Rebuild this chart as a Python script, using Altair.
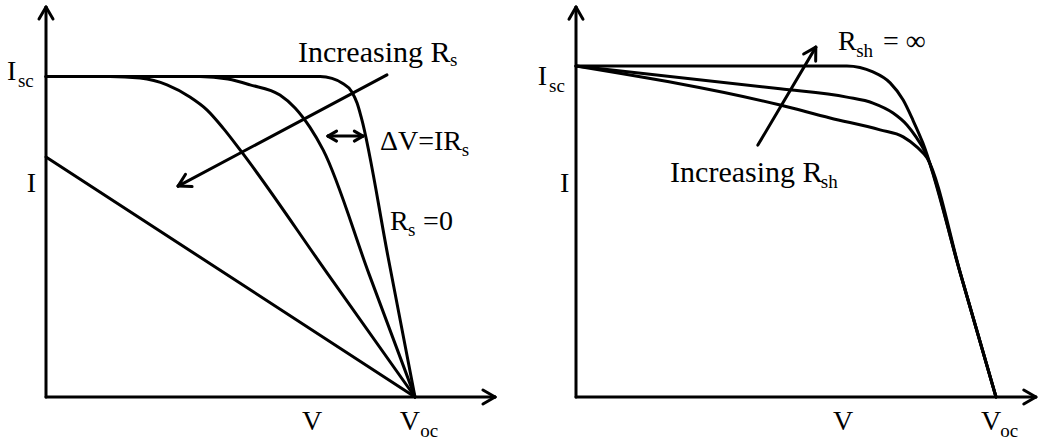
import math
import altair as alt
import pandas as pd

# ---------------------------------------------------------------------------
# I-V curves of a solar cell: voltage in units of Voc, current in units of Isc
# ---------------------------------------------------------------------------

# Left panel: series resistance Rs
rs0_v = [0.0, 0.688, 0.743, 0.775, 0.802, 0.829, 0.843, 0.854, 0.927, 1.0]
rs0_i = [1.0, 1.0, 1.0, 0.994, 0.980, 0.952, 0.917, 0.874, 0.437, 0.0]

rs1_v = [0.0, 0.417, 0.493, 0.553, 0.634, 0.675, 0.715, 0.751, 0.875, 1.0]
rs1_i = [1.0, 1.0, 0.992, 0.974, 0.942, 0.902, 0.842, 0.771, 0.385, 0.0]

rs2_v = [0.0, 0.173, 0.255, 0.328, 0.390, 0.436, 0.480, 0.526, 0.763, 1.0]
rs2_i = [1.0, 1.0, 0.995, 0.974, 0.936, 0.896, 0.839, 0.771, 0.385, 0.0]

rs3_v = [0.0, 1.0]
rs3_i = [0.749, 0.0]

# Right panel: shunt resistance Rsh
sh_inf_v = [0.0, 0.645, 0.707, 0.748, 0.779, 0.802, 0.826, 0.913, 1.0]
sh_inf_i = [1.0, 1.0, 0.982, 0.949, 0.897, 0.837, 0.767, 0.384, 0.0]

sh_mid_v = [0.0, 0.486, 0.645, 0.707, 0.755, 0.788, 0.810, 0.829, 0.915, 1.0]
sh_mid_i = [1.0, 0.931, 0.906, 0.888, 0.858, 0.822, 0.785, 0.746, 0.373, 0.0]

sh_low_v = [0.0, 0.486, 0.605, 0.724, 0.779, 0.812, 0.836, 0.918, 1.0]
sh_low_i = [1.0, 0.882, 0.843, 0.807, 0.786, 0.755, 0.722, 0.361, 0.0]

FONT = "Times New Roman, Liberation Serif, DejaVu Serif, serif"
W, H = 519, 442
STROKE = 3

# plot-area geometry of each panel: origin (px) and pixels per unit
LEFT = dict(x0=46, y0=397, sx=369, sy=320.5)
RIGHT = dict(x0=57, y0=397, sx=420, sy=331)


def curves_frame(curves):
    rows = []
    for name, (vs, cs) in curves.items():
        for k, (v, c) in enumerate(zip(vs, cs)):
            rows.append({"curve": name, "k": k, "V": v, "I": c})
    return pd.DataFrame(rows)


def chevron(p, tip, tail, length=14, spread=30):
    """Two short strokes forming an open arrowhead at `tip`, pointing away from `tail`."""
    dx = (tip[0] - tail[0]) * p["sx"]
    dy = -(tip[1] - tail[1]) * p["sy"]
    ang = math.atan2(dy, dx) + math.pi
    segs = []
    for s in (-spread, spread):
        a = ang + math.radians(s)
        wx = length * math.cos(a)
        wy = length * math.sin(a)
        segs.append((tip[0], tip[1], tip[0] + wx / p["sx"], tip[1] - wy / p["sy"]))
    return segs


def arrow(p, tail, tip, both=False, length=14):
    segs = [(tail[0], tail[1], tip[0], tip[1])]
    segs += chevron(p, tip, tail, length)
    if both:
        segs += chevron(p, tail, tip, length)
    return segs


def panel(p, curves, segments, texts):
    xs = alt.Scale(domain=[-p["x0"] / p["sx"], (W - p["x0"]) / p["sx"]], nice=False, zero=False)
    ys = alt.Scale(domain=[(p["y0"] - H) / p["sy"], p["y0"] / p["sy"]], nice=False, zero=False)

    lines = alt.Chart(curves_frame(curves)).mark_line(
        interpolate="monotone", strokeWidth=STROKE, color="black", strokeCap="round"
    ).encode(
        x=alt.X("V:Q", scale=xs, axis=None),
        y=alt.Y("I:Q", scale=ys, axis=None),
        detail="curve:N",
        order="k:Q",
    )

    seg_df = pd.DataFrame(segments, columns=["V", "I", "V2", "I2"])
    rules = alt.Chart(seg_df).mark_rule(
        strokeWidth=STROKE, color="black", strokeCap="round"
    ).encode(
        x=alt.X("V:Q", scale=xs, axis=None),
        y=alt.Y("I:Q", scale=ys, axis=None),
        x2="V2:Q",
        y2="I2:Q",
    )

    txt_df = pd.DataFrame(texts, columns=["V", "I", "label", "size"])
    labels = alt.Chart(txt_df).mark_text(
        font=FONT, align="left", baseline="alphabetic", color="black"
    ).encode(
        x=alt.X("V:Q", scale=xs, axis=None),
        y=alt.Y("I:Q", scale=ys, axis=None),
        text="label:N",
        size=alt.Size("size:Q", scale=None, legend=None),
    )

    return alt.layer(lines, rules, labels).properties(width=W, height=H)


BIG, SUB, NOTE = 28, 19, 30

# ---------------- left panel ----------------
left_segments = []
left_segments += arrow(LEFT, (0.0, 0.0), (0.0, 1.217))        # I axis
left_segments += arrow(LEFT, (0.0, 0.0), (1.217, 0.0))        # V axis
left_segments += arrow(LEFT, (0.924, 1.005), (0.358, 0.658))  # increasing Rs
left_segments += arrow(LEFT, (0.764, 0.814), (0.859, 0.814), both=True, length=10)  # ΔV

left_texts = [
    (-0.106, 0.989, "I", BIG), (-0.076, 0.967, "sc", SUB),
    (-0.052, 0.640, "I", BIG),
    (0.683, 1.045, "Increasing R", NOTE), (1.095, 1.033, "s", SUB),
    (0.905, 0.771, "\u0394V=IR", BIG), (1.127, 0.752, "s", SUB),
    (0.932, 0.521, "R", BIG), (0.981, 0.502, "s", SUB), (1.022, 0.521, "=0", BIG),
    (0.694, -0.103, "V", BIG),
    (0.959, -0.103, "V", BIG), (1.014, -0.125, "oc", SUB),
]

left = panel(
    LEFT,
    {"rs0": (rs0_v, rs0_i), "rs1": (rs1_v, rs1_i), "rs2": (rs2_v, rs2_i), "rs3": (rs3_v, rs3_i)},
    left_segments,
    left_texts,
)

# ---------------- right panel ----------------
right_segments = []
right_segments += arrow(RIGHT, (0.0, 0.0), (0.0, 1.178))       # I axis
right_segments += arrow(RIGHT, (0.0, 0.0), (1.095, 0.0))       # V axis
right_segments += arrow(RIGHT, (0.433, 0.761), (0.571, 1.057)) # increasing Rsh

right_texts = [
    (-0.091, 0.943, "I", BIG), (-0.064, 0.922, "sc", SUB),
    (-0.038, 0.619, "I", BIG),
    (0.624, 1.048, "R", BIG), (0.667, 1.027, "sh", SUB), (0.731, 1.048, "= \u221e", BIG),
    (0.224, 0.650, "Increasing R", NOTE), (0.583, 0.631, "sh", SUB),
    (0.612, -0.100, "V", BIG),
    (0.964, -0.100, "V", BIG), (1.010, -0.121, "oc", SUB),
]

right = panel(
    RIGHT,
    {"inf": (sh_inf_v, sh_inf_i), "mid": (sh_mid_v, sh_mid_i), "low": (sh_low_v, sh_low_i)},
    right_segments,
    right_texts,
)

chart = (
    alt.hconcat(left, right, spacing=0)
    .properties(padding=0, background="white")
    .configure_view(stroke=None)
)

chart.save("out.html", embed_options={"renderer": "svg", "actions": False})
